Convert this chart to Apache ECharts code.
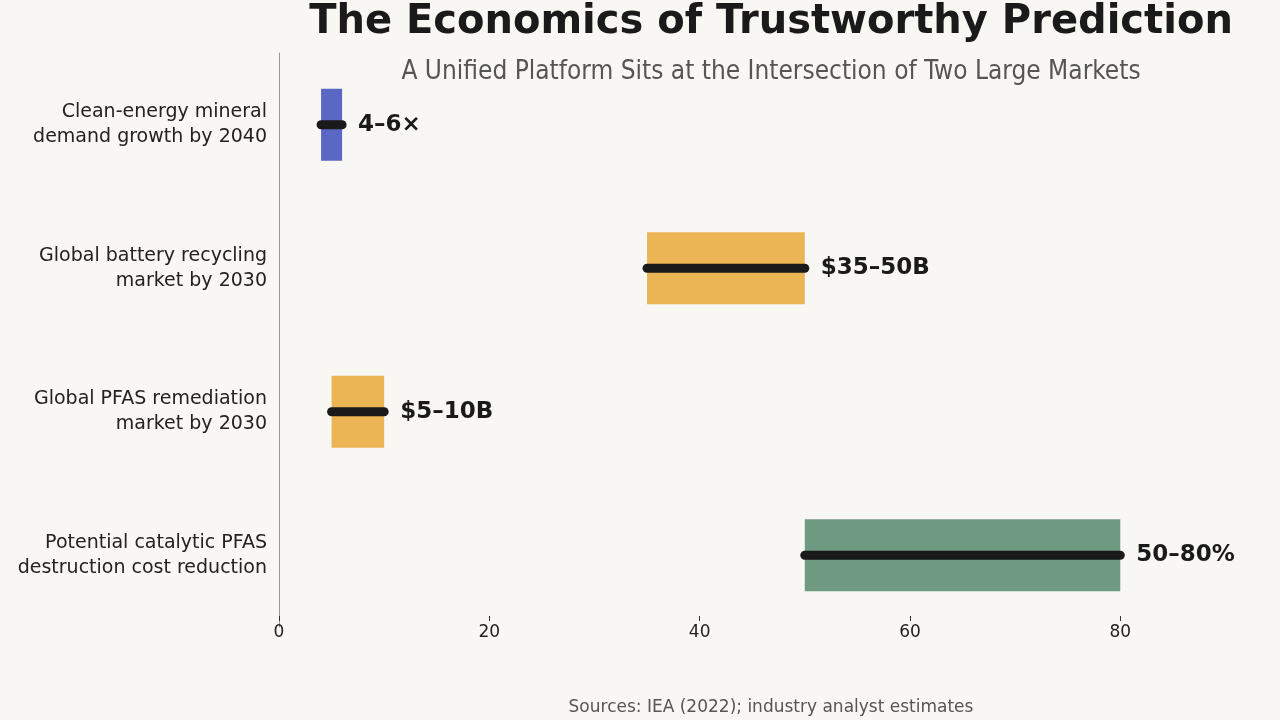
<!DOCTYPE html><html><head><meta charset="utf-8">
<script src="https://cdn.jsdelivr.net/npm/echarts@6/dist/echarts.min.js"></script>
<style>html,body{margin:0;background:#f9f7f3}#c{width:1280px;height:720px}</style></head><body><div id="c"></div>
<script>
const categories=["Potential catalytic PFAS\ndestruction cost reduction","Global PFAS remediation\nmarket by 2030","Global battery recycling\nmarket by 2030","Clean-energy mineral\ndemand growth by 2040"];
const lows=[50,5,35,4];
const highs=[80,10,50,6];
const labels=["50–80%","$5–10B","$35–50B","4–6×"];
const colors=["#6f9a82","#ebb454","#ebb454","#5b67c4"];
const data=categories.map((c,i)=>[i,lows[i],highs[i]]);
const chart=echarts.init(document.getElementById('c'));
chart.setOption({
 backgroundColor:'#f9f7f3',
 textStyle:{fontFamily:'DejaVu Sans'},
 title:[{text:'The Economics of Trustworthy Prediction',left:766,textAlign:'center',top:-2,textStyle:{fontSize:40,fontWeight:'bold',color:'#1a1a1a'}},
  {text:'A Unified Platform Sits at the Intersection of Two Large Markets',left:766,textAlign:'center',top:54,textStyle:{fontSize:26,fontWeight:'normal',color:'#555',fontFamily:'DejaVu Sans Condensed'}},
  {text:'Sources: IEA (2022); industry analyst estimates',left:766,textAlign:'center',top:694,textStyle:{fontSize:17,fontWeight:'normal',color:'#555'}}],
 grid:{left:279,right:2,top:53,bottom:93},
 xAxis:{type:'value',min:0,max:95,interval:20,offset:-11,axisLine:{lineStyle:{color:'#999'}},axisTick:{show:true,lineStyle:{color:'#333'}},splitLine:{show:false},axisLabel:{fontSize:17,color:'#222',showMaxLabel:false}},
 yAxis:{type:'category',data:categories,axisLine:{lineStyle:{color:'#999'}},axisTick:{alignWithLabel:true,lineStyle:{color:'#333'}},axisLabel:{fontSize:19,color:'#222',align:'right',lineHeight:25,margin:12}},
 series:[{type:'custom',data:data,encode:{x:[1,2],y:0},renderItem:(p,api)=>{
   const i=api.value(0),a=api.coord([api.value(1),i]),b=api.coord([api.value(2),i]);
   const h=72;
   return {type:'group',children:[
    {type:'rect',shape:{x:a[0],y:a[1]-h/2,width:b[0]-a[0],height:h},style:{fill:colors[i]}},
    {type:'line',shape:{x1:a[0],y1:a[1],x2:b[0],y2:b[1]},style:{stroke:'#1a1a1a',lineWidth:9,lineCap:'round'}},
    {type:'text',x:b[0]+16,y:b[1],style:{text:labels[i],fontSize:23,fontWeight:'bold',fill:'#1a1a1a',verticalAlign:'middle',fontFamily:'DejaVu Sans'}}
   ]};
 }}]
});
</script></body></html>
